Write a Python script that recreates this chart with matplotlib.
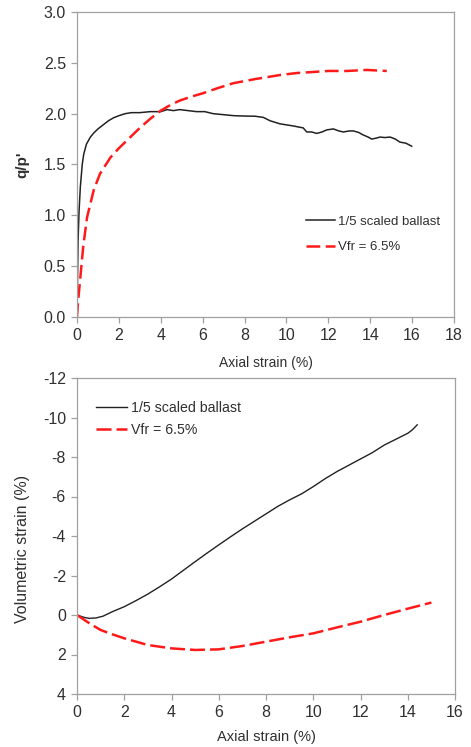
import matplotlib
matplotlib.use("Agg")
import matplotlib.pyplot as plt

plt.rcParams['font.family'] = ['Liberation Sans', 'DejaVu Sans']
plt.rcParams['axes.unicode_minus'] = False

# ---- Top panel: q/p' vs axial strain ----
ballast_x = [0, 0.05, 0.1, 0.16, 0.25, 0.32, 0.45, 0.64, 0.8, 1.0, 1.25, 1.5, 1.75, 2.0, 2.3, 2.6, 3.0,
             3.5, 4.0, 4.3, 4.6, 4.9, 5.3, 5.7, 6.1, 6.5, 7.0, 7.5, 8.1, 8.5, 8.9, 9.22, 9.69, 10.3,
             10.8, 10.97, 11.2, 11.45, 11.7, 11.92, 12.24, 12.5, 12.72, 13.0, 13.2, 13.45, 13.67,
             13.9, 14.07, 14.3, 14.47, 14.7, 14.95, 15.2, 15.42, 15.7, 15.98]
ballast_q = [0.0, 0.75, 1.05, 1.28, 1.5, 1.6, 1.7, 1.77, 1.81, 1.85, 1.89, 1.93, 1.96, 1.98, 2.0, 2.01, 2.01,
             2.02, 2.02, 2.04, 2.03, 2.04, 2.03, 2.02, 2.02, 2.0, 1.99, 1.98, 1.976, 1.975, 1.963, 1.93, 1.90,
             1.88, 1.86, 1.82, 1.82, 1.806, 1.82, 1.84, 1.85, 1.83, 1.82, 1.83, 1.83, 1.815, 1.79,
             1.77, 1.75, 1.76, 1.77, 1.765, 1.77, 1.75, 1.72, 1.71, 1.68]

fr_x = [0, 0.05, 0.16, 0.3, 0.48, 0.8, 1.1, 1.6, 2.0, 2.4, 3.0, 3.5, 4.0, 4.5, 4.92, 5.5, 6.0, 6.7, 7.47,
        8.5, 9.69, 10.5, 11.27, 12.0, 12.88, 13.83, 14.79]
fr_q = [0.0, 0.15, 0.39, 0.7, 0.98, 1.25, 1.41, 1.57, 1.66, 1.74, 1.86, 1.95, 2.03, 2.09, 2.13, 2.17, 2.2, 2.25, 2.30,
        2.34, 2.38, 2.40, 2.41, 2.42, 2.42, 2.43, 2.42]

# ---- Bottom panel: volumetric strain vs axial strain ----
ballast_vx = [0, 0.3, 0.5, 0.8, 1.1, 1.5, 2.0, 2.5, 3.0, 3.5, 4.0, 4.5, 5.0, 5.5, 6.0, 6.5, 7.0, 7.5, 8.0,
              8.5, 9.0, 9.5, 10.0, 10.5, 11.0, 11.5, 12.0, 12.5, 13.0, 13.5, 14.0, 14.2, 14.4]
ballast_vol = [0.0, 0.12, 0.17, 0.15, 0.06, -0.17, -0.42, -0.73, -1.06, -1.43, -1.82, -2.26, -2.7, -3.13, -3.55,
               -3.96, -4.36, -4.74, -5.12, -5.5, -5.83, -6.13, -6.5, -6.9, -7.26, -7.58, -7.9, -8.22, -8.6,
               -8.9, -9.2, -9.38, -9.63]

fr_vx = [0, 0.5, 1.0, 1.5, 2.0, 3.0, 4.0, 5.0, 6.0, 7.0, 8.0, 9.0, 10.0, 11.0, 12.0, 13.0, 14.0, 15.0]
fr_vol = [0.0, 0.4, 0.76, 0.98, 1.18, 1.52, 1.69, 1.77, 1.74, 1.57, 1.35, 1.13, 0.93, 0.63, 0.34, 0.0, -0.32, -0.63]

top_xticks = [0, 2, 4, 6, 8, 10, 12, 14, 16, 18]
top_yticks = [0.0, 0.5, 1.0, 1.5, 2.0, 2.5, 3.0]
bot_xticks = [0, 2, 4, 6, 8, 10, 12, 14, 16]
bot_yticks = [-12, -10, -8, -6, -4, -2, 0, 2, 4]

W, H = 471, 747
fig = plt.figure(figsize=(W / 100, H / 100), dpi=100)

spine_c = '#a0a0a0'
text_c = '#303030'

def style(ax):
    for s in ax.spines.values():
        s.set_color(spine_c)
        s.set_linewidth(0.9)
    ax.tick_params(direction='out', length=4, width=0.9, color=spine_c,
                   labelsize=11.5, labelcolor=text_c, pad=4)

ax1 = fig.add_axes([77 / W, 1 - 317 / H, (454 - 77) / W, (317 - 12) / H])
ax1.plot(ballast_x, ballast_q, color='#222222', lw=1.1, label='1/5 scaled ballast')
ax1.plot(fr_x, fr_q, color='#ff1a1a', lw=1.8, dashes=(5.5, 2.2), label='Vfr = 6.5%')
ax1.set_xlim(0, 18)
ax1.set_ylim(0, 3.0)
ax1.set_xticks(top_xticks)
ax1.set_yticks(top_yticks)
ax1.set_yticklabels([f'{v:.1f}' for v in top_yticks])
ax1.set_xlabel('Axial strain (%)', fontsize=10, color=text_c, labelpad=9)
ax1.set_ylabel("q/p'", fontsize=11, fontweight='bold', color=text_c, labelpad=10)
style(ax1)
ax1.legend(loc='center left', bbox_to_anchor=(0.607, 0.27), frameon=False, fontsize=9.5,
           handlelength=2.2, labelcolor=text_c, handletextpad=0.25, labelspacing=1.0,
           borderaxespad=0, borderpad=0)

ax2 = fig.add_axes([77 / W, 1 - 694 / H, (455 - 77) / W, (694 - 378) / H])
ax2.plot(ballast_vx, ballast_vol, color='#222222', lw=1.0, label='1/5 scaled ballast')
ax2.plot(fr_vx, fr_vol, color='#ff1a1a', lw=1.8, dashes=(6, 2), label='Vfr = 6.5%')
ax2.set_xlim(0, 16)
ax2.set_ylim(4, -12)
ax2.set_xticks(bot_xticks)
ax2.set_yticks(bot_yticks)
ax2.set_xlabel('Axial strain (%)', fontsize=10.5, color=text_c, labelpad=7)
ax2.set_ylabel('Volumetric strain (%)', fontsize=11.5, color=text_c)
ax2.yaxis.set_label_coords(-0.124, 0.46)
style(ax2)
ax2.legend(loc='center left', bbox_to_anchor=(0.05, 0.870), frameon=False, fontsize=10.2,
           handlelength=2.2, labelcolor=text_c, handletextpad=0.25, labelspacing=0.55,
           borderaxespad=0, borderpad=0)

fig.savefig('out.png', dpi=100)
